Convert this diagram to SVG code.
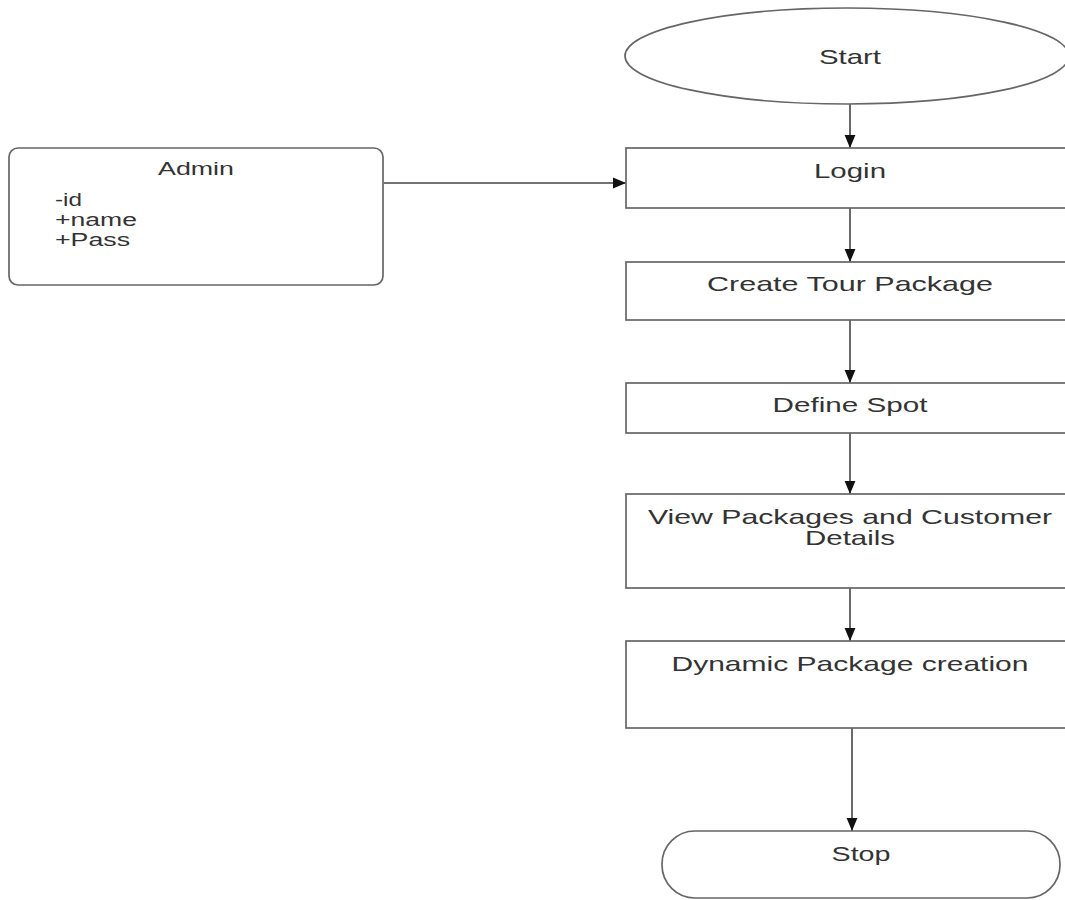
<svg xmlns="http://www.w3.org/2000/svg" width="1065" height="900" viewBox="0 0 1065 900">
<defs>
<style>
.shape{fill:#fff;stroke:#666;stroke-width:1.7}
.t{font-family:"Liberation Sans",Arial,sans-serif;fill:#333;font-size:21px;text-anchor:middle}
.a{font-family:"Liberation Sans",Arial,sans-serif;fill:#333;font-size:17.5px}
.c{stroke:#444;stroke-width:1.6;fill:none;marker-end:url(#arr)}
</style>
<marker id="arr" viewBox="0 0 12 12" refX="12" refY="6" markerWidth="13" markerHeight="13" markerUnits="userSpaceOnUse" orient="auto">
<path d="M0,1 L12,6 L0,11 Z" fill="#111"/>
</marker>
</defs>
<rect width="1065" height="900" fill="#fff"/>
<g id="connectors">
<line class="c" x1="384" y1="183" x2="626" y2="183"/>
<line class="c" x1="850" y1="104" x2="850" y2="148"/>
<line class="c" x1="850" y1="208" x2="850" y2="262"/>
<line class="c" x1="850" y1="320" x2="850" y2="383"/>
<line class="c" x1="850" y1="433" x2="850" y2="494"/>
<line class="c" x1="850" y1="588" x2="850" y2="641"/>
<line class="c" x1="852" y1="728" x2="852" y2="831"/>
</g>
<g id="start">
<ellipse class="shape" cx="847" cy="56" rx="222" ry="48"/>
<text class="t" x="850" y="64" textLength="62" lengthAdjust="spacingAndGlyphs">Start</text>
</g>
<g id="admin">
<rect class="shape" x="9" y="148" width="374" height="137" rx="9"/>
<text class="a" x="196" y="175" text-anchor="middle" textLength="76" lengthAdjust="spacingAndGlyphs">Admin</text>
<text class="a" x="55" y="206" textLength="27" lengthAdjust="spacingAndGlyphs">-id</text>
<text class="a" x="55" y="226" textLength="82" lengthAdjust="spacingAndGlyphs">+name</text>
<text class="a" x="55" y="246" textLength="75" lengthAdjust="spacingAndGlyphs">+Pass</text>
</g>
<g id="login">
<rect class="shape" x="626" y="148" width="460" height="60"/>
<text class="t" x="850" y="178" textLength="72" lengthAdjust="spacingAndGlyphs">Login</text>
</g>
<g id="create">
<rect class="shape" x="626" y="262" width="460" height="58"/>
<text class="t" x="850" y="291" textLength="286" lengthAdjust="spacingAndGlyphs">Create Tour Package</text>
</g>
<g id="define">
<rect class="shape" x="626" y="383" width="460" height="50"/>
<text class="t" x="850" y="412" textLength="155" lengthAdjust="spacingAndGlyphs">Define Spot</text>
</g>
<g id="view">
<rect class="shape" x="626" y="494" width="460" height="94"/>
<text class="t" x="850" y="524" textLength="404" lengthAdjust="spacingAndGlyphs">View Packages and Customer</text>
<text class="t" x="850" y="545" textLength="90" lengthAdjust="spacingAndGlyphs">Details</text>
</g>
<g id="dynamic">
<rect class="shape" x="626" y="641" width="460" height="87"/>
<text class="t" x="850" y="671" textLength="357" lengthAdjust="spacingAndGlyphs">Dynamic Package creation</text>
</g>
<g id="stop">
<rect class="shape" x="662" y="831" width="398" height="67" rx="33" ry="33"/>
<text class="t" x="861" y="861" textLength="59" lengthAdjust="spacingAndGlyphs">Stop</text>
</g>
</svg>
